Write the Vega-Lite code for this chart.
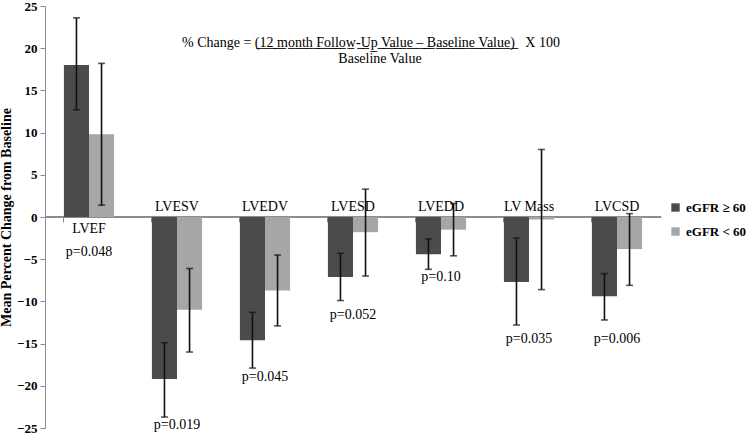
{
  "$schema": "https://vega.github.io/schema/vega-lite/v6.json",
  "width": 616,
  "height": 422,
  "autosize": {"type": "none"},
  "padding": {"left": 45, "top": 6, "right": 89, "bottom": 7},
  "background": "white",
  "config": {
    "view": {"stroke": null},
    "font": "Liberation Serif",
    "text": {"font": "Liberation Serif"}
  },
  "datasets": {
    "bars": [
      {"measure": "LVEF", "group": "eGFR ≥ 60", "mean": 18.0, "lower": 12.7, "upper": 23.6},
      {"measure": "LVEF", "group": "eGFR < 60", "mean": 9.8, "lower": 1.4, "upper": 18.2},
      {"measure": "LVESV", "group": "eGFR ≥ 60", "mean": -19.2, "lower": -23.7, "upper": -14.9},
      {"measure": "LVESV", "group": "eGFR < 60", "mean": -11.0, "lower": -16.0, "upper": -6.1},
      {"measure": "LVEDV", "group": "eGFR ≥ 60", "mean": -14.6, "lower": -17.9, "upper": -11.3},
      {"measure": "LVEDV", "group": "eGFR < 60", "mean": -8.7, "lower": -12.9, "upper": -4.5},
      {"measure": "LVESD", "group": "eGFR ≥ 60", "mean": -7.1, "lower": -9.9, "upper": -4.3},
      {"measure": "LVESD", "group": "eGFR < 60", "mean": -1.8, "lower": -7.0, "upper": 3.3},
      {"measure": "LVEDD", "group": "eGFR ≥ 60", "mean": -4.4, "lower": -6.2, "upper": -2.6},
      {"measure": "LVEDD", "group": "eGFR < 60", "mean": -1.5, "lower": -4.6, "upper": 1.6},
      {"measure": "LV Mass", "group": "eGFR ≥ 60", "mean": -7.7, "lower": -12.8, "upper": -2.5},
      {"measure": "LV Mass", "group": "eGFR < 60", "mean": -0.3, "lower": -8.6, "upper": 8.0},
      {"measure": "LVCSD", "group": "eGFR ≥ 60", "mean": -9.4, "lower": -12.2, "upper": -6.7},
      {"measure": "LVCSD", "group": "eGFR < 60", "mean": -3.8, "lower": -8.1, "upper": 0.4}
    ],
    "labels": [
      {"measure": "LVEF", "p": "p=0.048", "p_y": -4.2},
      {"measure": "LVESV", "p": "p=0.019", "p_y": -24.6},
      {"measure": "LVEDV", "p": "p=0.045", "p_y": -19.0},
      {"measure": "LVESD", "p": "p=0.052", "p_y": -11.6},
      {"measure": "LVEDD", "p": "p=0.10", "p_y": -7.1},
      {"measure": "LV Mass", "p": "p=0.035", "p_y": -14.4},
      {"measure": "LVCSD", "p": "p=0.006", "p_y": -14.4}
    ],
    "formula": [
      {"measure": "LVESD", "line1": "% Change = (\u03321\u03322\u0332 \u0332m\u0332o\u0332n\u0332t\u0332h\u0332 \u0332F\u0332o\u0332l\u0332l\u0332o\u0332w\u0332-\u0332U\u0332p\u0332 \u0332V\u0332a\u0332l\u0332u\u0332e\u0332 \u0332–\u0332 \u0332B\u0332a\u0332s\u0332e\u0332l\u0332i\u0332n\u0332e\u0332 \u0332V\u0332a\u0332l\u0332u\u0332e\u0332)\u0332 \u00a0 X 100", "line2": "Baseline Value", "y1": 20.6, "y2": 18.7}
    ]
  },
  "layer": [
    {
      "data": {"name": "bars"},
      "mark": {"type": "rule", "color": "#8c8c8c", "strokeWidth": 1},
      "encoding": {"y": {"datum": 0, "type": "quantitative"}}
    },
    {
      "data": {"name": "bars"},
      "mark": {"type": "bar"},
      "encoding": {
        "x": {
          "field": "measure", "type": "nominal",
          "sort": ["LVEF", "LVESV", "LVEDV", "LVESD", "LVEDD", "LV Mass", "LVCSD"],
          "scale": {"paddingInner": 0.43, "paddingOuter": 0.215},
          "axis": {
            "title": null, "labels": false, "orient": "bottom", "offset": -211,
            "bandPosition": 0, "tickSize": 5, "tickColor": "#8c8c8c",
            "domainColor": "#8c8c8c", "grid": false, "zindex": 0
          }
        },
        "xOffset": {
          "field": "group", "type": "nominal",
          "sort": ["eGFR ≥ 60", "eGFR < 60"],
          "scale": {"paddingInner": 0, "paddingOuter": 0}
        },
        "y": {
          "field": "mean", "type": "quantitative",
          "scale": {"domain": [-25, 25], "nice": false, "zero": false},
          "axis": {
            "title": "Mean Percent Change from Baseline",
            "titleFont": "Liberation Serif", "titleFontSize": 14, "titleFontWeight": "bold",
            "titleColor": "#000", "titlePadding": 3,
            "values": [-25, -20, -15, -10, -5, 0, 5, 10, 15, 20, 25],
            "labelFont": "Liberation Serif", "labelFontSize": 13, "labelFontWeight": "bold",
            "labelColor": "#000", "labelPadding": 3,
            "tickSize": 5, "tickColor": "#8c8c8c", "domainColor": "#8c8c8c",
            "grid": false
          }
        },
        "color": {
          "field": "group", "type": "nominal",
          "sort": ["eGFR ≥ 60", "eGFR < 60"],
          "scale": {"domain": ["eGFR ≥ 60", "eGFR < 60"], "range": ["#4b4b4b", "#a6a6a6"]},
          "legend": {
            "title": null, "orient": "none", "legendX": 624, "legendY": 195,
            "padding": 0,
            "symbolType": "square", "symbolSize": 70, "symbolStrokeWidth": 0,
            "labelFont": "Liberation Serif", "labelFontSize": 13, "labelFontWeight": "bold",
            "labelColor": "#000", "labelOffset": 4, "rowPadding": 10,
            "encode": {
              "symbols": {
                "update": {
                  "fill": {"signal": "datum.value === 'eGFR ≥ 60' ? '#111111' : '#6e6e6e'"},
                  "opacity": {"value": 1}
                }
              }
            }
          }
        }
      }
    },
    {
      "data": {"name": "bars"},
      "mark": {"type": "rule", "color": "#111", "strokeWidth": 1.6},
      "encoding": {
        "x": {"field": "measure", "type": "nominal", "sort": ["LVEF", "LVESV", "LVEDV", "LVESD", "LVEDD", "LV Mass", "LVCSD"]},
        "xOffset": {"field": "group", "type": "nominal", "sort": ["eGFR ≥ 60", "eGFR < 60"]},
        "y": {"field": "lower", "type": "quantitative"},
        "y2": {"field": "upper"}
      }
    },
    {
      "data": {"name": "bars"},
      "mark": {"type": "tick", "color": "#111", "thickness": 1.6, "size": 7, "orient": "horizontal"},
      "encoding": {
        "x": {"field": "measure", "type": "nominal", "sort": ["LVEF", "LVESV", "LVEDV", "LVESD", "LVEDD", "LV Mass", "LVCSD"]},
        "xOffset": {"field": "group", "type": "nominal", "sort": ["eGFR ≥ 60", "eGFR < 60"]},
        "y": {"field": "lower", "type": "quantitative"}
      }
    },
    {
      "data": {"name": "bars"},
      "mark": {"type": "tick", "color": "#111", "thickness": 1.6, "size": 7, "orient": "horizontal"},
      "encoding": {
        "x": {"field": "measure", "type": "nominal", "sort": ["LVEF", "LVESV", "LVEDV", "LVESD", "LVEDD", "LV Mass", "LVCSD"]},
        "xOffset": {"field": "group", "type": "nominal", "sort": ["eGFR ≥ 60", "eGFR < 60"]},
        "y": {"field": "upper", "type": "quantitative"}
      }
    },
    {
      "data": {"name": "labels"},
      "transform": [{"filter": "datum.measure === 'LVEF'"}],
      "mark": {"type": "text", "baseline": "top", "dy": 5, "fontSize": 14, "color": "#000"},
      "encoding": {
        "x": {"field": "measure", "type": "nominal", "sort": ["LVEF", "LVESV", "LVEDV", "LVESD", "LVEDD", "LV Mass", "LVCSD"]},
        "y": {"datum": 0, "type": "quantitative"},
        "text": {"field": "measure"}
      }
    },
    {
      "data": {"name": "labels"},
      "transform": [{"filter": "datum.measure !== 'LVEF'"}],
      "mark": {"type": "text", "baseline": "bottom", "dy": -3, "fontSize": 14, "color": "#000"},
      "encoding": {
        "x": {"field": "measure", "type": "nominal", "sort": ["LVEF", "LVESV", "LVEDV", "LVESD", "LVEDD", "LV Mass", "LVCSD"]},
        "y": {"datum": 0, "type": "quantitative"},
        "text": {"field": "measure"}
      }
    },
    {
      "data": {"name": "labels"},
      "mark": {"type": "text", "baseline": "middle", "fontSize": 14, "color": "#000"},
      "encoding": {
        "x": {"field": "measure", "type": "nominal", "sort": ["LVEF", "LVESV", "LVEDV", "LVESD", "LVEDD", "LV Mass", "LVCSD"]},
        "y": {"field": "p_y", "type": "quantitative"},
        "text": {"field": "p"}
      }
    },
    {
      "data": {"name": "formula"},
      "mark": {"type": "text", "baseline": "middle", "align": "center", "fontSize": 14, "color": "#000", "dx": 18},
      "encoding": {
        "x": {"field": "measure", "type": "nominal", "sort": ["LVEF", "LVESV", "LVEDV", "LVESD", "LVEDD", "LV Mass", "LVCSD"]},
        "y": {"field": "y1", "type": "quantitative"},
        "text": {"field": "line1"}
      }
    },
    {
      "data": {"name": "formula"},
      "mark": {"type": "text", "baseline": "middle", "align": "center", "fontSize": 14, "color": "#000", "dx": 27},
      "encoding": {
        "x": {"field": "measure", "type": "nominal", "sort": ["LVEF", "LVESV", "LVEDV", "LVESD", "LVEDD", "LV Mass", "LVCSD"]},
        "y": {"field": "y2", "type": "quantitative"},
        "text": {"field": "line2"}
      }
    }
  ]
}
